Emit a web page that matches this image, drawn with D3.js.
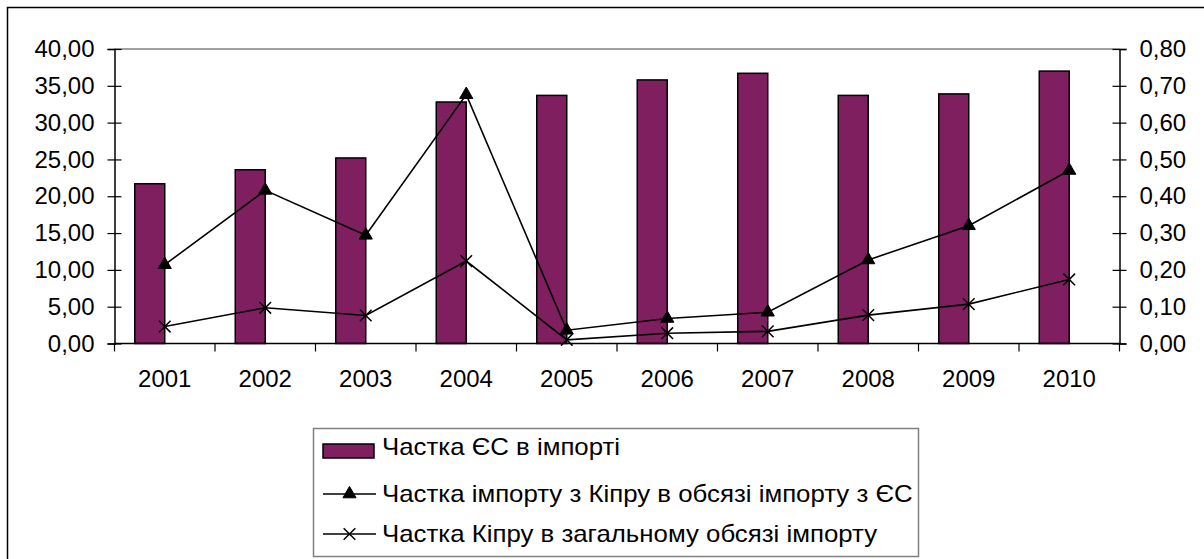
<!DOCTYPE html>
<html>
<head>
<meta charset="utf-8">
<script src="https://cdn.jsdelivr.net/npm/d3@7"></script>
<style>
  body { margin: 0; background: white; }
  svg text { font-family: "Liberation Sans", Arial, sans-serif; fill: #000; }
</style>
</head>
<body>
<div id="chart"></div>
<script>
// ---------- data ----------
const years = ["2001","2002","2003","2004","2005","2006","2007","2008","2009","2010"];
const euShare = [21.7, 23.6, 25.2, 32.8, 33.7, 35.8, 36.7, 33.7, 33.9, 37.0];          // left axis
const cyprusInEu = [0.214, 0.416, 0.294, 0.676, 0.036, 0.068, 0.085, 0.227, 0.32, 0.47]; // right axis
const cyprusInTotal = [0.046, 0.097, 0.076, 0.224, 0.01, 0.028, 0.033, 0.077, 0.107, 0.174];
const leftTicks = [0, 5, 10, 15, 20, 25, 30, 35, 40];
const rightTicks = [0, 0.1, 0.2, 0.3, 0.4, 0.5, 0.6, 0.7, 0.8];
const legendLabels = [
  "Частка ЄС в імпорті",
  "Частка імпорту з Кіпру в обсязі імпорту з ЄС",
  "Частка Кіпру в загальному обсязі імпорту"
];

const W = 1204, H = 559;
const barColor = "#7f1f5f";
const locale = d3.formatLocale({decimal: ",", thousands: " ", grouping: [3], currency: ["", ""]});
const fmt = locale.format(".2f");

const svg = d3.select("#chart").append("svg")
  .attr("width", W).attr("height", H);

// outer chart border (right and bottom fall outside the picture)
svg.append("rect")
  .attr("x", 7.5).attr("y", 7.5)
  .attr("width", 1210).attr("height", 570)
  .attr("fill", "white").attr("stroke", "#000").attr("stroke-width", 1.5);

// ----- scales -----
const plot = {left: 114.5, right: 1119.5, top: 49, bottom: 343.5};
const x = d3.scaleBand().domain(years).range([plot.left, plot.right]).padding(0);
const yL = d3.scaleLinear().domain([0, 40]).range([plot.bottom, plot.top]);
const yR = d3.scaleLinear().domain([0, 0.8]).range([plot.bottom, plot.top]);
const cx = d => x(d) + x.bandwidth() / 2;

// plot area top border (grey)
svg.append("line")
  .attr("x1", plot.left).attr("x2", plot.right)
  .attr("y1", plot.top).attr("y2", plot.top)
  .attr("stroke", "#808080").attr("stroke-width", 1.5);

// ----- bars -----
svg.selectAll("rect.bar")
  .data(euShare)
  .join("rect")
  .attr("class", "bar")
  .attr("x", (d, i) => cx(years[i]) - 30)
  .attr("width", 30)
  .attr("y", d => yL(d))
  .attr("height", d => yL(0) - yL(d))
  .attr("fill", barColor)
  .attr("stroke", "#000")
  .attr("stroke-width", 1.5);

// ----- axes -----
const axisFont = 24;

const leftAxis = svg.append("g")
  .attr("transform", `translate(${plot.left},0)`)
  .call(d3.axisLeft(yL).tickValues(leftTicks).tickFormat(fmt).tickSize(7).tickPadding(13));
leftAxis.select(".domain").attr("stroke", "#000").attr("stroke-width", 1.5);
leftAxis.selectAll(".tick line").attr("x1", -7).attr("x2", 7).attr("stroke-width", 1.2);
leftAxis.selectAll(".tick text").attr("font-size", axisFont).attr("font-family", "Liberation Sans, Arial");

const rightAxis = svg.append("g")
  .attr("transform", `translate(${plot.right},0)`)
  .call(d3.axisRight(yR).tickValues(rightTicks).tickFormat(fmt).tickSize(7).tickPadding(13));
rightAxis.select(".domain").attr("stroke", "#000").attr("stroke-width", 1.5);
rightAxis.selectAll(".tick line").attr("x1", -7).attr("x2", 7).attr("stroke-width", 1.2);
rightAxis.selectAll(".tick text").attr("font-size", axisFont).attr("font-family", "Liberation Sans, Arial");

// x axis: line, ticks on category boundaries, labels centred
svg.append("line")
  .attr("x1", plot.left).attr("x2", plot.right)
  .attr("y1", plot.bottom).attr("y2", plot.bottom)
  .attr("stroke", "#000").attr("stroke-width", 1.5);

const bounds = years.map(y => x(y)).concat([plot.right]);
svg.selectAll("line.xtick")
  .data(bounds)
  .join("line")
  .attr("class", "xtick")
  .attr("x1", d => d).attr("x2", d => d)
  .attr("y1", plot.bottom).attr("y2", plot.bottom + 8)
  .attr("stroke", "#000").attr("stroke-width", 1.2);

svg.selectAll("text.xlab")
  .data(years)
  .join("text")
  .attr("class", "xlab")
  .attr("x", d => cx(d))
  .attr("y", 387)
  .attr("text-anchor", "middle")
  .attr("font-size", axisFont)
  .text(d => d);

// ----- lines -----
const triangle = d3.symbol().type(d3.symbolTriangle).size(75);
const cross = d3.symbol().type(d3.symbolX).size(90);

function drawSeries(values, symbol, filled) {
  const line = d3.line()
    .x((d, i) => cx(years[i]))
    .y(d => yR(d));
  svg.append("path")
    .datum(values)
    .attr("d", line)
    .attr("fill", "none")
    .attr("stroke", "#000")
    .attr("stroke-width", 1.6);
  svg.selectAll(null)
    .data(values)
    .join("path")
    .attr("transform", (d, i) => `translate(${cx(years[i])},${yR(d)})`)
    .attr("d", symbol)
    .attr("fill", filled ? "#000" : "none")
    .attr("stroke", "#000")
    .attr("stroke-width", filled ? 1 : 1.5);
}
drawSeries(cyprusInEu, triangle, true);
drawSeries(cyprusInTotal, cross, false);

// ----- legend -----
const legend = svg.append("g");
legend.append("rect")
  .attr("x", 313.5).attr("y", 428.5)
  .attr("width", 605).attr("height", 128)
  .attr("fill", "white").attr("stroke", "#808080").attr("stroke-width", 1.5);

const rows = [451, 494, 534];
legend.append("rect")
  .attr("x", 323).attr("y", rows[0] - 7)
  .attr("width", 51).attr("height", 14)
  .attr("fill", barColor).attr("stroke", "#000").attr("stroke-width", 1.5);

[[1, triangle, true], [2, cross, false]].forEach(([r, sym, filled]) => {
  legend.append("line")
    .attr("x1", 323).attr("x2", 376)
    .attr("y1", rows[r]).attr("y2", rows[r])
    .attr("stroke", "#000").attr("stroke-width", 1.6);
  legend.append("path")
    .attr("transform", `translate(349.5,${rows[r]})`)
    .attr("d", sym)
    .attr("fill", filled ? "#000" : "none")
    .attr("stroke", "#000")
    .attr("stroke-width", filled ? 1 : 1.5);
});

const legText = legend.selectAll("text.leg")
  .data(legendLabels)
  .join("text")
  .attr("class", "leg")
  .attr("x", 382)
  .attr("y", (d, i) => rows[i] + 5 + (i === 0 ? -1 : 3))
  .attr("font-size", 23)
  .text(d => d);

// the reference text is a little condensed: fit the long row to its width
const natural = legText.filter((d, i) => i === 1).node().getComputedTextLength();
const k = 531 / natural;
legText.attr("transform", (d, i) => `translate(382,0) scale(${k},1) translate(-382,0)`);
</script>
</body>
</html>
